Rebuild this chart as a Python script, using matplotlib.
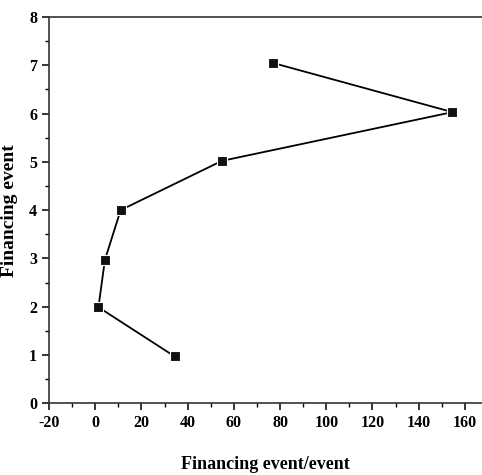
import matplotlib
matplotlib.use("Agg")
import matplotlib.pyplot as plt
from matplotlib.ticker import MultipleLocator

# values
x_vals = [34.4, 1.4, 4.2, 11.0, 54.8, 154.6, 76.8]
y_vals = [0.97, 1.99, 2.97, 4.0, 5.02, 6.03, 7.05]
x_label = "Financing event/event"
y_label = "Financing event"

plt.rcParams["font.family"] = ["Liberation Serif", "DejaVu Serif"]
plt.rcParams["font.weight"] = "bold"
plt.rcParams["axes.unicode_minus"] = False

fig = plt.figure(figsize=(4.82, 4.75), dpi=100)
ax = fig.add_axes([49 / 482, 1 - 403.3 / 475, 1 - 49 / 482, (403.3 - 17) / 475])

ax.plot(x_vals, y_vals, color="black", linewidth=1.3,
        marker="s", markersize=7, markerfacecolor="#111111",
        markeredgecolor="white", markeredgewidth=0.8)

ax.set_xlim(-20, 167.4)
ax.set_ylim(0, 8)
ax.xaxis.set_major_locator(MultipleLocator(20))
ax.xaxis.set_minor_locator(MultipleLocator(10))
ax.yaxis.set_major_locator(MultipleLocator(1))
ax.yaxis.set_minor_locator(MultipleLocator(0.5))

ax.spines["right"].set_visible(False)
for s in ("left", "bottom", "top"):
    ax.spines[s].set_linewidth(1.2)
    ax.spines[s].set_color("#333333")

ax.tick_params(which="major", direction="out", length=5, width=1.1,
               labelsize=11.5, top=False, right=False)
ax.tick_params(which="minor", direction="out", length=3, width=1.0,
               top=False, right=False)
for lbl in ax.get_xticklabels() + ax.get_yticklabels():
    lbl.set_fontweight("bold")

ax.set_xlabel(x_label, fontsize=13, fontweight="bold", labelpad=18)
ax.set_ylabel(y_label, fontsize=14, fontweight="bold", labelpad=8)

fig.savefig("out.png", dpi=100)
